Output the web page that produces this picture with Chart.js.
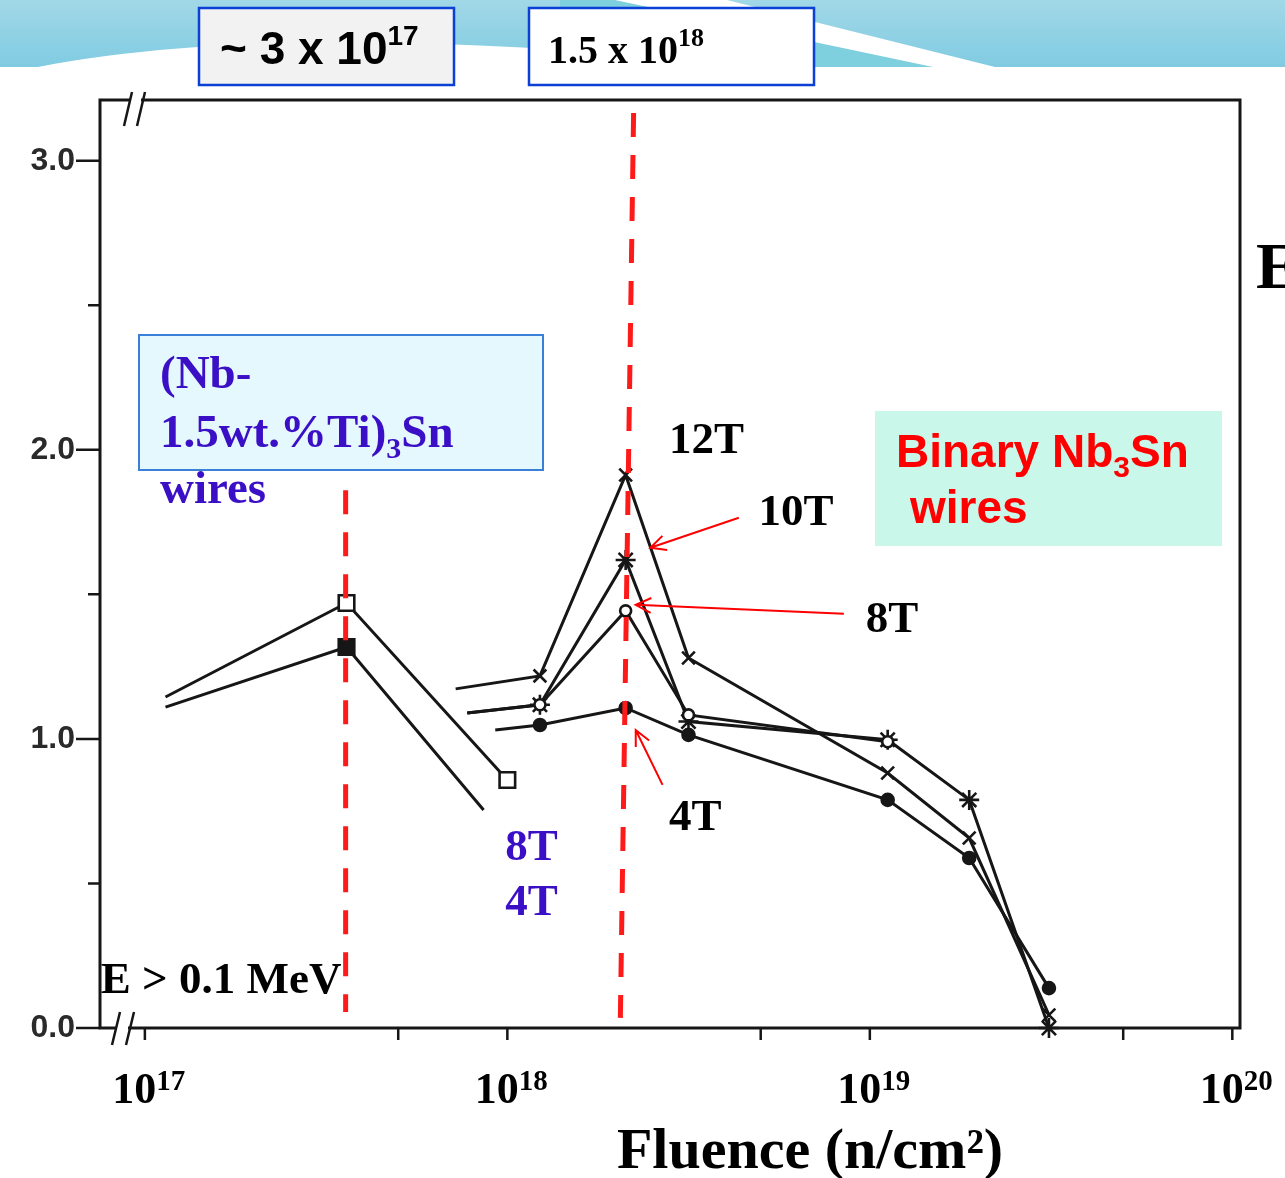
<!DOCTYPE html>
<html>
<head>
<meta charset="utf-8">
<script src="https://cdn.jsdelivr.net/npm/chart.js@4.4.0/dist/chart.umd.min.js"></script>
<style>
  html, body { margin: 0; padding: 0; background: #fff; }
  #fluenceChart { display: block; }
</style>
</head>
<body>
<canvas id="fluenceChart" width="1285" height="1178"></canvas>
<script>
// Ic / Ic0 after fast-neutron irradiation, E > 0.1 MeV

// (Nb-1.5wt.%Ti)3Sn wires
var ternaryFluence8T = [1.14e17, 3.6e17, 1.0e18];
var ternaryRatio8T   = [1.145, 1.47, 0.858];
var ternaryFluence4T = [1.14e17, 3.6e17, 8.6e17];
var ternaryRatio4T   = [1.11, 1.318, 0.754];

// binary Nb3Sn wires
var binaryFluence12T = [7.2e17, 1.23e18, 2.12e18, 3.16e18, 1.12e19, 1.88e19, 3.12e19];
var binaryRatio12T   = [1.173, 1.218, 1.913, 1.28, 0.882, 0.657, 0.045];
var binaryFluence10T = [7.75e17, 1.23e18, 2.12e18, 3.16e18, 1.12e19, 1.88e19, 3.12e19];
var binaryRatio10T   = [1.09, 1.118, 1.619, 1.06, 0.997, 0.789, 0.0];
var binaryFluence8T  = [7.75e17, 1.23e18, 2.12e18, 3.16e18, 1.12e19];
var binaryRatio8T    = [1.09, 1.118, 1.443, 1.083, 0.99];
var binaryFluence4T  = [9.26e17, 1.23e18, 2.12e18, 3.16e18, 1.12e19, 1.88e19, 3.12e19];
var binaryRatio4T    = [1.031, 1.048, 1.107, 1.014, 0.789, 0.588, 0.138];

var xTickValues  = [1e17, 1e18, 1e19, 1e20];
var xMinorValues = [5e17, 5e18, 5e19];
var yTickValues  = [0, 1, 2, 3];
var yMinorValues = [0.5, 1.5, 2.5];

var SERIF = "'Liberation Serif', 'DejaVu Serif', serif";
var SANS = "'Liberation Sans', Arial, sans-serif";
var PURPLE = '#3b0fc6';
var RED = '#ff1a1a';
var INK = '#161616';

// dashed markers at the two fluences quoted in the header boxes
var fluenceMarks = [
  { x0: 3.58e17, y0: 1.86, x1: 3.58e17, y1: 0.055 },
  { x0: 2.23e18, y0: 3.165, x1: 2.05e18, y1: 0.035 }
];

var arrows = [
  { from: [4.35e18, 1.765], to: [2.48e18, 1.661] },
  { from: [8.48e18, 1.433], to: [2.26e18, 1.464] },
  { from: [2.68e18, 0.841], to: [2.26e18, 1.031] }
];

var fieldLabels = [
  { text: '12T', x: 2.79e18, y: 1.99, color: '#000' },
  { text: '10T', x: 4.93e18, y: 1.74, color: '#000' },
  { text: '8T', x: 9.75e18, y: 1.37, color: '#000' },
  { text: '4T', x: 2.79e18, y: 0.684, color: '#000' },
  { text: '8T', x: 9.87e17, y: 0.581, color: PURPLE },
  { text: '4T', x: 9.87e17, y: 0.391, color: PURPLE },
  { text: 'E > 0.1 MeV', x: 7.56e16, y: 0.121, color: '#000' }
];

function toPoints(xs, ys) {
  return xs.map(function (x, i) { return { x: x, y: ys[i] }; });
}

function seriesSet(label, xs, ys, style, radius, open, bareLast) {
  return {
    label: label,
    data: toPoints(xs, ys),
    showLine: true,
    borderColor: INK,
    borderWidth: 3,
    pointStyle: style,
    pointBorderColor: INK,
    pointBorderWidth: 2.6,
    pointBackgroundColor: open ? '#fff' : INK,
    pointRadius: function (c) {
      if (c.dataIndex === 0) return 0;
      if (bareLast && c.dataIndex === xs.length - 1) return 0;
      return radius;
    },
    clip: 14
  };
}

function drawRuns(ctx, x, y, runs, color) {
  ctx.fillStyle = color;
  ctx.textAlign = 'left';
  ctx.textBaseline = 'alphabetic';
  runs.forEach(function (r) {
    ctx.font = r.font;
    ctx.fillText(r.text, x, y + (r.dy || 0));
    x += ctx.measureText(r.text).width;
  });
}

function runsWidth(ctx, runs) {
  return runs.reduce(function (w, r) {
    ctx.font = r.font;
    return w + ctx.measureText(r.text).width;
  }, 0);
}

function drawArrow(ctx, x0, y0, x1, y1) {
  var a = Math.atan2(y1 - y0, x1 - x0);
  var len = 17, spread = 0.45;
  ctx.beginPath();
  ctx.moveTo(x0, y0);
  ctx.lineTo(x1, y1);
  ctx.moveTo(x1 - len * Math.cos(a - spread), y1 - len * Math.sin(a - spread));
  ctx.lineTo(x1, y1);
  ctx.lineTo(x1 - len * Math.cos(a + spread), y1 - len * Math.sin(a + spread));
  ctx.stroke();
}

var slidePlugin = {
  id: 'slide',
  beforeDraw: function (chart) {
    var ctx = chart.ctx;
    ctx.save();
    ctx.fillStyle = '#fff';
    ctx.fillRect(0, 0, chart.width, chart.height);

    // slide banner
    var g = ctx.createLinearGradient(0, 0, 0, 67);
    g.addColorStop(0, '#a2d8e7');
    g.addColorStop(1, '#80cbe2');
    ctx.fillStyle = g;
    ctx.fillRect(0, 0, chart.width, 67);
    ctx.fillStyle = '#fff';
    ctx.beginPath();
    ctx.moveTo(38, 67);
    ctx.quadraticCurveTo(260, 24, 640, 56);
    ctx.lineTo(640, 67);
    ctx.closePath();
    ctx.fill();
    ctx.fillStyle = '#7fd0de';
    ctx.beginPath();
    ctx.moveTo(615, 0); ctx.lineTo(933, 67); ctx.lineTo(560, 67); ctx.lineTo(560, 0);
    ctx.closePath();
    ctx.fill();
    ctx.fillStyle = '#fff';
    ctx.beginPath();
    ctx.moveTo(615, 0); ctx.lineTo(727, 0); ctx.lineTo(995, 67); ctx.lineTo(933, 67);
    ctx.closePath();
    ctx.fill();

    // header boxes
    ctx.lineWidth = 2.5;
    ctx.strokeStyle = '#0b3fd6';
    ctx.fillStyle = '#f2f2f2';
    ctx.fillRect(199, 8, 255, 77);
    ctx.strokeRect(199, 8, 255, 77);
    drawRuns(ctx, 220, 64, [
      { text: '~ 3 x 10', font: 'bold 46px ' + SANS },
      { text: '17', font: 'bold 28px ' + SANS, dy: -19 }
    ], '#000');
    ctx.fillStyle = '#fff';
    ctx.fillRect(529, 8, 285, 77);
    ctx.strokeRect(529, 8, 285, 77);
    drawRuns(ctx, 548, 63, [
      { text: '1.5 x 10', font: 'bold 40px ' + SERIF },
      { text: '18', font: 'bold 26px ' + SERIF, dy: -17 }
    ], '#000');

    // slide title letter cut off at the right edge
    drawRuns(ctx, 1256, 288, [{ text: 'E', font: 'bold 66px ' + SERIF }], '#000');
    ctx.restore();
  },
  beforeDatasetsDraw: function (chart) {
    var ctx = chart.ctx, a = chart.chartArea;
    var xs = chart.scales.x, ys = chart.scales.y;
    ctx.save();
    ctx.strokeStyle = INK;
    ctx.lineWidth = 3;
    ctx.strokeRect(a.left, a.top, a.right - a.left, a.bottom - a.top);

    // y ticks, long at the labelled values and short in between
    ctx.lineWidth = 2.5;
    ctx.beginPath();
    yTickValues.forEach(function (v) {
      var y = ys.getPixelForValue(v);
      ctx.moveTo(a.left - 24, y); ctx.lineTo(a.left, y);
    });
    yMinorValues.forEach(function (v) {
      var y = ys.getPixelForValue(v);
      ctx.moveTo(a.left - 12, y); ctx.lineTo(a.left, y);
    });
    xTickValues.concat(xMinorValues).forEach(function (v) {
      var x = xs.getPixelForValue(v);
      ctx.moveTo(x, a.bottom); ctx.lineTo(x, a.bottom + 12);
    });
    ctx.stroke();

    // x tick labels as powers of ten
    xTickValues.forEach(function (v) {
      var runs = [
        { text: '10', font: 'bold 44px ' + SERIF },
        { text: String(Math.round(Math.log10(v))), font: 'bold 29px ' + SERIF, dy: -13 }
      ];
      var w = runsWidth(ctx, runs);
      drawRuns(ctx, xs.getPixelForValue(v) + 4 - w / 2, a.bottom + 75, runs, '#000');
    });

    // axis breaks
    ctx.fillStyle = '#fff';
    ctx.fillRect(a.left + 17, a.bottom - 3, 11, 6);
    ctx.fillRect(a.left + 31, a.top - 3, 10, 6);
    ctx.strokeStyle = INK;
    ctx.beginPath();
    ctx.moveTo(a.left + 12, a.bottom + 17); ctx.lineTo(a.left + 20, a.bottom - 16);
    ctx.moveTo(a.left + 26, a.bottom + 17); ctx.lineTo(a.left + 34, a.bottom - 16);
    ctx.moveTo(a.left + 24, a.top + 26); ctx.lineTo(a.left + 32, a.top - 8);
    ctx.moveTo(a.left + 37, a.top + 26); ctx.lineTo(a.left + 45, a.top - 8);
    ctx.stroke();
    ctx.restore();
  },
  afterDatasetsDraw: function (chart) {
    var ctx = chart.ctx;
    var xs = chart.scales.x, ys = chart.scales.y;
    ctx.save();

    ctx.strokeStyle = RED;
    ctx.lineWidth = 5;
    ctx.setLineDash([24, 18]);
    fluenceMarks.forEach(function (m) {
      ctx.beginPath();
      ctx.moveTo(xs.getPixelForValue(m.x0), ys.getPixelForValue(m.y0));
      ctx.lineTo(xs.getPixelForValue(m.x1), ys.getPixelForValue(m.y1));
      ctx.stroke();
    });
    ctx.setLineDash([]);

    ctx.strokeStyle = '#ff0000';
    ctx.lineWidth = 2;
    arrows.forEach(function (ar) {
      drawArrow(ctx,
        xs.getPixelForValue(ar.from[0]), ys.getPixelForValue(ar.from[1]),
        xs.getPixelForValue(ar.to[0]), ys.getPixelForValue(ar.to[1]));
    });

    fieldLabels.forEach(function (l) {
      drawRuns(ctx, xs.getPixelForValue(l.x), ys.getPixelForValue(l.y),
        [{ text: l.text, font: 'bold 45px ' + SERIF }], l.color);
    });

    // ternary wires box
    ctx.fillStyle = '#e4f8fd';
    ctx.strokeStyle = '#3a80d8';
    ctx.lineWidth = 2;
    ctx.fillRect(139, 335, 404, 135);
    ctx.strokeRect(139, 335, 404, 135);
    drawRuns(ctx, 160, 388, [{ text: '(Nb-', font: 'bold 47px ' + SERIF }], PURPLE);
    drawRuns(ctx, 160, 447, [
      { text: '1.5wt.%Ti)', font: 'bold 47px ' + SERIF },
      { text: '3', font: 'bold 30px ' + SERIF, dy: 11 },
      { text: 'Sn', font: 'bold 47px ' + SERIF }
    ], PURPLE);
    drawRuns(ctx, 160, 503, [{ text: 'wires', font: 'bold 47px ' + SERIF }], PURPLE);

    // binary wires box
    ctx.fillStyle = '#c9f7ea';
    ctx.fillRect(875, 411, 347, 135);
    drawRuns(ctx, 896, 467, [
      { text: 'Binary Nb', font: 'bold 46px ' + SANS },
      { text: '3', font: 'bold 30px ' + SANS, dy: 10 },
      { text: 'Sn', font: 'bold 46px ' + SANS }
    ], '#ff0000');
    drawRuns(ctx, 910, 523, [{ text: 'wires', font: 'bold 46px ' + SANS }], '#ff0000');

    // axis title
    ctx.font = 'bold 58px ' + SERIF;
    ctx.fillStyle = '#000';
    ctx.textAlign = 'center';
    ctx.textBaseline = 'alphabetic';
    ctx.fillText('Fluence (n/cm\u00b2)', 810, 1168);
    ctx.restore();
  }
};

new Chart(document.getElementById('fluenceChart'), {
  type: 'scatter',
  data: {
    datasets: [
      seriesSet('(Nb-1.5wt.%Ti)3Sn 8T', ternaryFluence8T, ternaryRatio8T, 'rect', 11, true, false),
      seriesSet('(Nb-1.5wt.%Ti)3Sn 4T', ternaryFluence4T, ternaryRatio4T, 'rect', 11, false, true),
      seriesSet('Nb3Sn 4T', binaryFluence4T, binaryRatio4T, 'circle', 6, false, false),
      seriesSet('Nb3Sn 8T', binaryFluence8T, binaryRatio8T, 'circle', 5.5, true, false),
      seriesSet('Nb3Sn 10T', binaryFluence10T, binaryRatio10T, 'star', 10, false, false),
      seriesSet('Nb3Sn 12T', binaryFluence12T, binaryRatio12T, 'crossRot', 9, false, false)
    ]
  },
  options: {
    responsive: false,
    devicePixelRatio: 1,
    animation: false,
    layout: { padding: { top: 100, right: 45, left: 0, bottom: 0 } },
    plugins: { legend: { display: false }, tooltip: { enabled: false } },
    scales: {
      x: {
        type: 'logarithmic',
        min: 7.52e16,
        max: 1.05e20,
        grid: { display: false, drawTicks: false },
        border: { display: false },
        ticks: { display: false },
        afterBuildTicks: function (s) {
          s.ticks = xTickValues.map(function (v) { return { value: v, major: true }; });
        },
        afterFit: function (s) {
          s.height = 150;
          s.paddingLeft = 0;
          s.paddingRight = 0;
        }
      },
      y: {
        type: 'linear',
        min: 0,
        max: 3.21,
        grid: { display: false, drawTicks: false },
        border: { display: false },
        afterFit: function (s) { s.width = 100; },
        afterBuildTicks: function (s) {
          s.ticks = yTickValues.map(function (v) { return { value: v }; });
        },
        ticks: {
          padding: 25,
          color: '#2a2a2a',
          font: { family: SANS, size: 32, weight: 'bold' },
          callback: function (v) { return Number(v).toFixed(1); }
        }
      }
    }
  },
  plugins: [slidePlugin]
});
</script>
</body>
</html>
